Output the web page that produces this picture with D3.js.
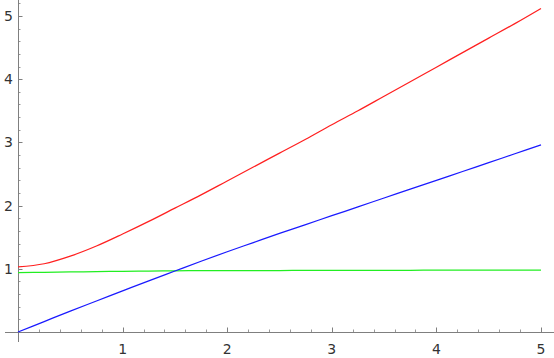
<!DOCTYPE html>
<html><head><meta charset="utf-8">
<script src="https://cdn.jsdelivr.net/npm/d3@7"></script>
<style>html,body{margin:0;padding:0;background:#fff;}svg{display:block;}</style>
</head><body>
<svg id="c" width="554" height="358"></svg>
<script>
const xs = [0,0.25,0.5,0.75,1,1.25,1.5,1.75,2,2.25,2.5,2.75,3,3.25,3.5,3.75,4,4.25,4.5,4.75,5];
const redVals = [1.03,1.08,1.20,1.36,1.55,1.75,1.96,2.17,2.39,2.61,2.83,3.05,3.28,3.50,3.73,3.96,4.19,4.42,4.65,4.88,5.12];
const blueVals = [0,0.165,0.33,0.49,0.65,0.81,0.965,1.12,1.27,1.415,1.56,1.70,1.84,1.98,2.12,2.26,2.40,2.54,2.68,2.82,2.96];
const greenVals = [0.94,0.945,0.95,0.955,0.96,0.965,0.968,0.97,0.971,0.972,0.973,0.974,0.975,0.976,0.9765,0.977,0.978,0.9785,0.979,0.9795,0.98];
const xTicks = [1,2,3,4,5];
const yTicks = [1,2,3,4,5];

const svg = d3.select("#c");
const x = d3.scaleLinear().domain([0,5]).range([18,541]);
const y = d3.scaleLinear().domain([0,5]).range([332,16]);
const axisColor = "#7f7f7f";
const g = svg.append("g");

g.append("line").attr("x1",5).attr("x2",554).attr("y1",y(0)+0.5).attr("y2",y(0)+0.5).attr("stroke",axisColor);
g.append("line").attr("x1",x(0)+0.5).attr("x2",x(0)+0.5).attr("y1",0).attr("y2",342).attr("stroke",axisColor);

const minor = d3.range(0.2,5.21,0.2).map(v=>+v.toFixed(1)).filter(v=>Math.abs(v-Math.round(v))>1e-6);
minor.forEach(v=>{
  g.append("line").attr("x1",Math.round(x(v))+0.5).attr("x2",Math.round(x(v))+0.5).attr("y1",y(0)).attr("y2",y(0)-2.5).attr("stroke",axisColor).attr("stroke-width",0.8);
  g.append("line").attr("y1",Math.round(y(v))+0.5).attr("y2",Math.round(y(v))+0.5).attr("x1",x(0)).attr("x2",x(0)+2.5).attr("stroke",axisColor).attr("stroke-width",0.8);
});
xTicks.forEach(v=>{
  g.append("line").attr("x1",Math.round(x(v))+0.5).attr("x2",Math.round(x(v))+0.5).attr("y1",y(0)).attr("y2",y(0)-4.5).attr("stroke",axisColor);
  g.append("text").attr("x",x(v)).attr("y",353.5).attr("text-anchor","middle")
   .attr("font-family","DejaVu Sans").attr("font-size",14).attr("fill","#333").text(v);
});
yTicks.forEach(v=>{
  g.append("line").attr("y1",Math.round(y(v))+0.5).attr("y2",Math.round(y(v))+0.5).attr("x1",x(0)).attr("x2",x(0)+4.5).attr("stroke",axisColor);
  g.append("text").attr("x",13).attr("y",y(v)+5).attr("text-anchor","end")
   .attr("font-family","DejaVu Sans").attr("font-size",14).attr("fill","#333").text(v);
});

const line = vals => d3.line().curve(d3.curveCatmullRom.alpha(0.5)).x((d,i)=>x(xs[i])).y(d=>y(d))(vals);
[[greenVals,"#22ee22"],[blueVals,"#1a1aff"],[redVals,"#ff2020"]].forEach(([vals,col])=>{
  svg.append("path").attr("d",line(vals)).attr("fill","none").attr("stroke",col).attr("stroke-width",1.25);
});
</script>
</body></html>
